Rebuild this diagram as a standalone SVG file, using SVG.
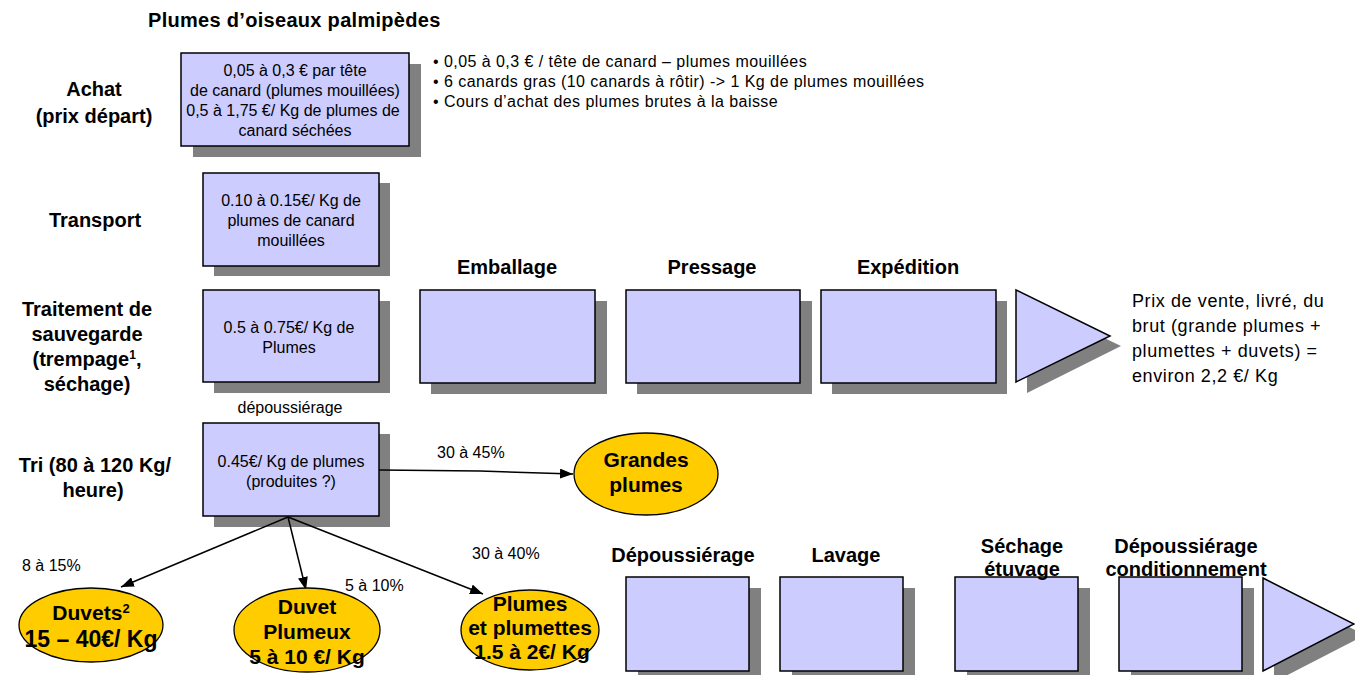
<svg xmlns="http://www.w3.org/2000/svg" width="1355" height="675" viewBox="0 0 1355 675">
<defs>
<style>
.box{fill:#CCCCFF;stroke:#000;stroke-width:1.5}
.sh{fill:#808080}
.ell{fill:#FFCC00;stroke:#000;stroke-width:1.3}
.lab{font-family:"Liberation Sans",Arial,sans-serif;font-weight:bold;font-size:20px;fill:#000}
.btx{font-family:"Liberation Sans",Arial,sans-serif;font-size:16px;fill:#000;text-anchor:middle}
.etx{font-family:"Liberation Sans",Arial,sans-serif;font-weight:bold;font-size:21px;fill:#000;text-anchor:middle}
.etx2{font-size:23px}
.pct{font-family:"Liberation Sans",Arial,sans-serif;font-size:16px;fill:#000}
.bul{font-family:"Liberation Sans",Arial,sans-serif;font-size:16px;letter-spacing:0.45px;fill:#000}
.big{font-family:"Liberation Sans",Arial,sans-serif;font-size:18px;letter-spacing:0.6px;fill:#000}
.c{text-anchor:middle}
.con{fill:none;stroke:#000;stroke-width:1.5}
</style>
<marker id="arr" markerUnits="userSpaceOnUse" markerWidth="14" markerHeight="10" refX="13" refY="5" orient="auto">
<path d="M0,0 L13,5 L0,10 z" fill="#000"/>
</marker>
</defs>

<text class="lab" x="148" y="27" letter-spacing="0.3">Plumes d’oiseaux palmipèdes</text>

<g id="label-achat">
<text class="lab c" x="94" y="96">Achat</text>
<text class="lab c" x="94" y="123">(prix départ)</text>
</g>
<g id="label-transport"><text class="lab c" x="95" y="227">Transport</text></g>
<g id="label-traitement">
<text class="lab c" x="87" y="316">Traitement de</text>
<text class="lab c" x="87" y="341">sauvegarde</text>
<text class="lab c" x="87" y="366">(trempage<tspan font-size="12" baseline-shift="super">1</tspan>,</text>
<text class="lab c" x="87" y="391">séchage)</text>
</g>
<g id="label-tri">
<text class="lab c" x="95" y="472">Tri (80 à 120 Kg/</text>
<text class="lab c" x="93" y="497">heure)</text>
</g>

<g id="node-achat">
<rect class="sh" x="193" y="64" width="228" height="93"/>
<rect class="box" x="181" y="53" width="228" height="93"/>
<text class="btx" x="295" y="76">0,05 à 0,3 € par tête</text>
<text class="btx" x="295" y="96">de canard (plumes mouillées)</text>
<text class="btx" x="293" y="116">0,5 à 1,75 €/ Kg de plumes de</text>
<text class="btx" x="295" y="136">canard séchées</text>
</g>

<g id="bullets">
<text class="bul" x="433" y="67">•  0,05 à 0,3 € / tête de canard – plumes mouillées</text>
<text class="bul" x="433" y="87">•  6 canards gras (10 canards à rôtir) -&gt; 1 Kg de plumes mouillées</text>
<text class="bul" x="433" y="107">•  Cours d’achat des plumes brutes à la baisse</text>
</g>

<g id="node-transport">
<rect class="sh" x="214" y="183" width="176" height="93"/>
<rect class="box" x="203" y="173" width="176" height="93"/>
<text class="btx" x="291" y="206">0.10 à 0.15€/ Kg de</text>
<text class="btx" x="291" y="226">plumes de canard</text>
<text class="btx" x="291" y="246">mouillées</text>
</g>

<g id="node-traitement">
<rect class="sh" x="214" y="301" width="176" height="92"/>
<rect class="box" x="203" y="290" width="176" height="92"/>
<text class="btx" x="289" y="333">0.5 à 0.75€/ Kg de</text>
<text class="btx" x="289" y="353">Plumes</text>
</g>

<g id="node-emballage">
<text class="lab c" x="507" y="274">Emballage</text>
<rect class="sh" x="431" y="301" width="176" height="93"/>
<rect class="box" x="420" y="290" width="175" height="93"/>
</g>
<g id="node-pressage">
<text class="lab c" x="712" y="274">Pressage</text>
<rect class="sh" x="637" y="301" width="175" height="93"/>
<rect class="box" x="626" y="290" width="174" height="93"/>
</g>
<g id="node-expedition">
<text class="lab c" x="908" y="274">Expédition</text>
<rect class="sh" x="832" y="301" width="175" height="93"/>
<rect class="box" x="821" y="290" width="175" height="93"/>
</g>
<g id="node-triangle-top">
<polygon class="sh" points="1027,301 1121,346 1027,393"/>
<polygon class="box" points="1016,290 1110,336 1016,382"/>
</g>
<g id="text-prix">
<text class="big" x="1132" y="307">Prix de vente, livré, du</text>
<text class="big" x="1132" y="332">brut (grande plumes +</text>
<text class="big" x="1132" y="357">plumettes + duvets) =</text>
<text class="big" x="1132" y="382">environ 2,2 €/ Kg</text>
</g>

<g id="node-tri">
<text class="pct c" x="290" y="413">dépoussiérage</text>
<rect class="sh" x="214" y="434" width="176" height="93"/>
<rect class="box" x="203" y="423" width="176" height="93"/>
<text class="btx" x="291" y="467">0.45€/ Kg de plumes</text>
<text class="btx" x="291" y="487">(produites ?)</text>
</g>

<g id="connectors">
<path class="con" d="M379,470 L480,471 L573,474" marker-end="url(#arr)"/>
<line class="con" x1="288" y1="517" x2="121" y2="587" marker-end="url(#arr)"/>
<line class="con" x1="288" y1="517" x2="306" y2="590" marker-end="url(#arr)"/>
<line class="con" x1="288" y1="517" x2="483" y2="594" marker-end="url(#arr)"/>
<text class="pct" x="437" y="458">30 à 45%</text>
<text class="pct" x="22" y="571">8 à 15%</text>
<text class="pct" x="345" y="591">5 à 10%</text>
<text class="pct" x="472" y="559">30 à 40%</text>
</g>

<g id="node-grandes">
<ellipse class="ell" cx="646" cy="474" rx="72" ry="41"/>
<text class="etx" x="646" y="467">Grandes</text>
<text class="etx" x="646" y="492">plumes</text>
</g>
<g id="node-duvets">
<ellipse class="ell" cx="91" cy="625" rx="72" ry="37"/>
<text class="etx" x="91" y="620">Duvets<tspan font-size="13" baseline-shift="super">2</tspan></text>
<text class="etx etx2" x="91" y="647">15 – 40€/ Kg</text>
</g>
<g id="node-duvet-plumeux">
<ellipse class="ell" cx="307" cy="630" rx="73" ry="42"/>
<text class="etx" x="307" y="614">Duvet</text>
<text class="etx" x="307" y="639">Plumeux</text>
<text class="etx" x="307" y="664">5 à 10 €/ Kg</text>
</g>
<g id="node-plumes">
<ellipse class="ell" cx="530" cy="630" rx="69" ry="40"/>
<text class="etx" x="530" y="611">Plumes</text>
<text class="etx" x="530" y="635">et plumettes</text>
<text class="etx" x="532" y="659">1.5 à 2€/ Kg</text>
</g>

<g id="node-depoussierage">
<rect class="sh" x="638" y="588" width="123" height="94"/>
<rect class="box" x="626" y="577" width="123" height="94"/>
<text class="lab c" x="683" y="562">Dépoussiérage</text>
</g>
<g id="node-lavage">
<rect class="sh" x="792" y="588" width="123" height="94"/>
<rect class="box" x="780" y="577" width="123" height="94"/>
<text class="lab c" x="846" y="562">Lavage</text>
</g>
<g id="node-sechage">
<rect class="sh" x="967" y="588" width="123" height="94"/>
<rect class="box" x="955" y="577" width="123" height="94"/>
<text class="lab c" x="1022" y="553">Séchage</text>
<text class="lab c" x="1022" y="576">étuvage</text>
</g>
<g id="node-conditionnement">
<rect class="sh" x="1131" y="588" width="123" height="94"/>
<rect class="box" x="1119" y="577" width="123" height="94"/>
<text class="lab c" x="1186" y="553">Dépoussiérage</text>
<text class="lab c" x="1186" y="576">conditionnement</text>
</g>
<g id="node-triangle-bottom">
<polygon class="sh" points="1274,589 1365,635 1274,682"/>
<polygon class="box" points="1263,578 1354,624 1263,671"/>
</g>
</svg>
